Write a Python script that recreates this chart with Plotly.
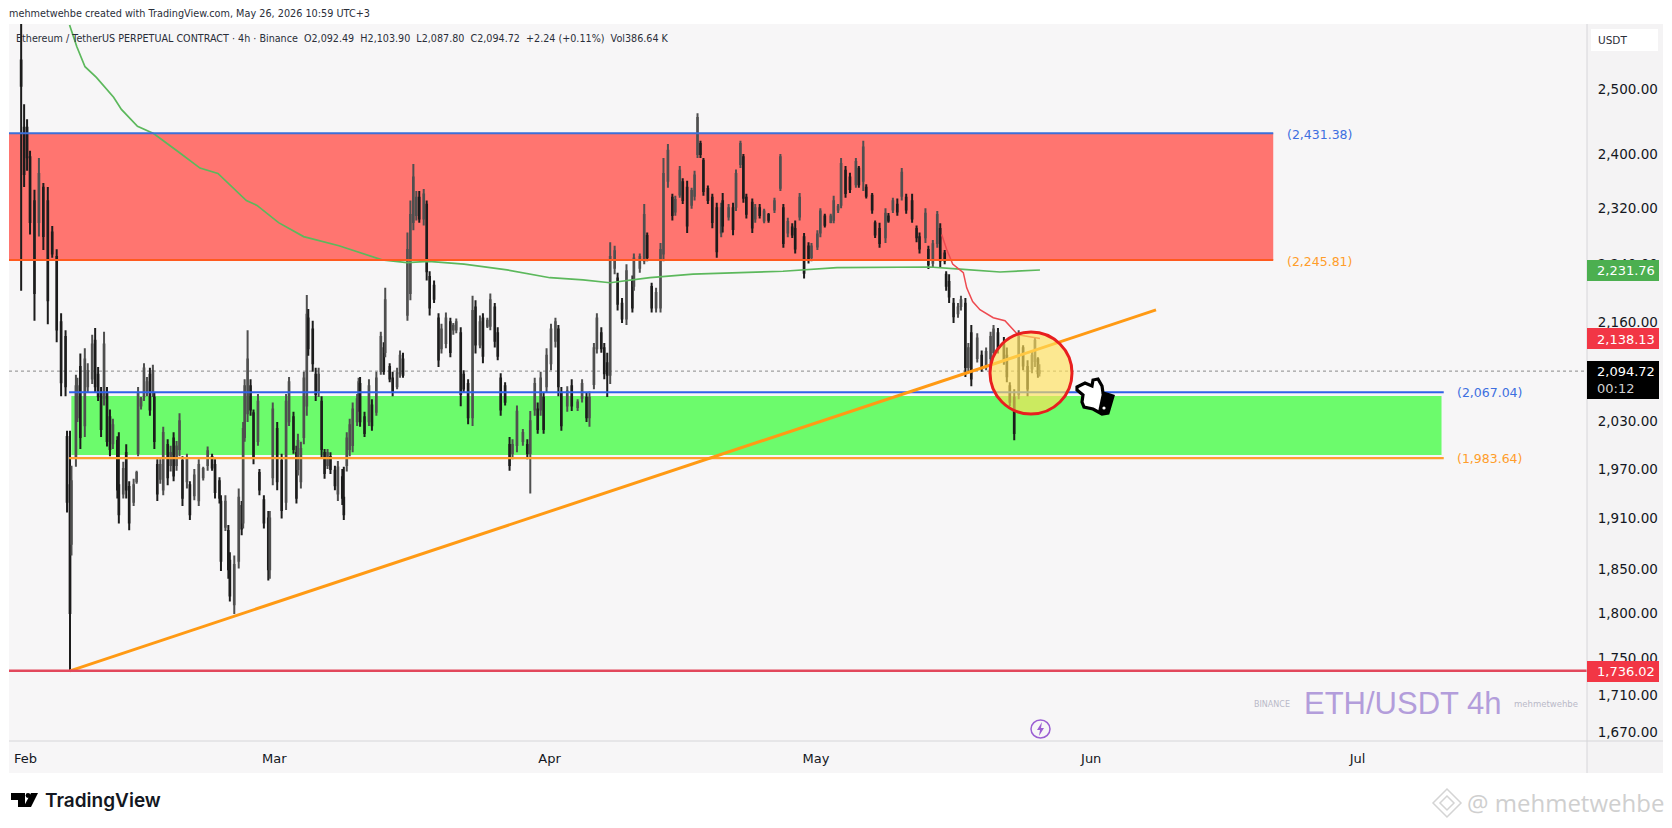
import math
import pandas as pd
import plotly.graph_objects as go

W, H = 1672, 828
# pane edges in the screenshot
LEFT, RIGHT, TOP, BOTTOM = 9, 1587, 24, 741
FONT = "DejaVu Sans"
INK = "#131722"

FEB_1 = pd.Timestamp("2026-02-01")

candle_bars = [-3,-1,1,3,6,9,12,15,18,21,24,27,28,30,31,34,35,37,40,42,45,47,49,51,53,55,57,59,62,63,66,68,70,73,75,76,78,80,82,84,86,87,89,91,93,96,98,100,102,104,106,109,111,114,117,120,123,126,128,131,132,135,137,138,141,144,146,147,148,150,152,154,157,158,161,164,165,
    167,170,173,176,178,181,183,184,186,188,190,191,194,196,198,200,202,204,206,209,211,214,215,217,219,221,224,225,226,229,232,234,237,240,242,243,246,248,251,253,255,258,260,262,264,266,269,271,273,276,279,281,284,287,289,291,294,296,299,302,304,307,309,312,314,317,319,321,324,327,329,332,336,339,341,344,346,348,350,
    352,355,358,360,362,366,369,373,376,379,381,384,386,389,391,393,395,398,400,403,406,410,411,415,418,420,423,426,429,431,434,437,439,442,444,447,450,452,454,456,458,461,464,467,470,471,475,478,480,483,485,487,491,493,496,499,502,506,510,512,515,518,520,523,526,529,531,535,537,540,544,546,549,551,554,557,561,563,566,568,572,574,577,581,583,586,589,592,595,599,602,604,608,610,613,616,618,621,622,624,627,630,632,635,637,639,643,646,649,652,654,657,661,663,665,668,671,674,677,680,682,684,685]

candle_high = [2640,2476,2453,2405,2347,2394,2357,2351,2294,2261,2172,2149,2018,2018,1974,2090,2086,2118,2125,2105,2143,2152,2100,2074,2147,2074,2045,2033,2011,2016,1979,2001,1955,1958,1968,2074,2061,2105,2087,2099,2103,2067,1982,1982,2023,2007,1999,2016,2005,2040,1986,1989,1955,1970,1982,1973,1998,1989,1982,1960,1938,1938,1902,1870,1866,1946,1931,2029,2084,2149,2084,2045,2065,1970,1938,1919,1919,
    2054,2029,1989,2065,2087,2042,1999,2014,2004,2094,2197,2178,2162,2099,2099,2062,1995,1995,1991,1974,1980,1970,1973,2016,2033,2054,2065,2086,2087,2042,2084,2058,2094,2147,2133,2207,2105,2094,2099,2122,2119,2285,2331,2385,2345,2345,2348,2331,2230,2217,2172,2158,2173,2166,2159,2165,2153,2096,2084,2196,2190,2169,2172,2166,2199,2186,2153,2092,2080,2010,2007,2050,2020,2007,2043,2086,2054,2094,2067,
    2125,2158,2166,2156,2074,2075,2084,2058,2084,2067,2068,2132,2172,2153,2132,2119,2271,2266,2228,2193,2240,2224,2255,2255,2326,2285,2214,2207,2270,2394,2415,2341,2338,2382,2364,2360,2350,2375,2462,2420,2394,2353,2341,2328,2328,2342,2326,2328,2377,2420,2400,2341,2334,2326,2326,2319,2313,2335,2400,2326,2306,2298,2302,2342,2284,2271,2270,2288,2320,2312,2312,2338,2326,2394,2382,2372,2394,2382,2420,2355,2342,2302,2299,2320,2313,2335,2334,2379,2341,2341,2295,2285,2320,2266,2274,2316,2298,2260,2230,2226,2193,2186,2196,2193,2132,2156,2145,2122,2126,2147,2156,2152,2140,2126,2080,2071,2149,2129,2109,2122,2140,2113,2103.90]

candle_low = [2203,2351,2375,2282,2162,2279,2260,2157,2249,2133,2062,2062,1917,1736.02,1866,1973,2029,1995,2010,2067,2078,2067,2056,2010,2050,1998,1986,1995,1934,1904,1934,1934,1896,1925,1952,1986,2045,2056,2062,2037,2061,1995,1931,1952,1938,1950,1967,1955,1968,1986,1925,1946,1908,1932,1925,1956,1968,1968,1934,1928,1848,1895,1839,1813,1799,1851,1890,1898,2004,2029,2037,1976,1999,1938,1898,1837,1839,
    1950,1944,1910,1920,2024,1989,1928,1962,1946,2001,2037,2115,2094,2056,2061,1985,1958,1970,1964,1944,1931,1926,1908,1967,1986,1991,2024,2042,2023,2010,2024,2018,2037,2090,2090,2113,2080,2062,2071,2086,2086,2162,2190,2288,2302,2299,2295,2217,2169,2186,2100,2118,2125,2113,2143,2145,2049,2067,2026,2024,2118,2125,2105,2152,2149,2126,2109,2037,2050,1968,1982,1991,1999,1982,1940,2037,2014,2037,2014,
    2067,2096,2126,2062,2018,2042,2043,2043,2054,2029,2023,2071,2118,2119,2084,2061,2078,2226,2176,2159,2156,2173,2203,2228,2240,2244,2173,2173,2173,2244,2350,2302,2309,2335,2326,2284,2319,2331,2394,2394,2338,2326,2291,2249,2278,2285,2302,2281,2316,2379,2328,2305,2284,2299,2305,2298,2299,2313,2345,2263,2278,2277,2255,2302,2220,2241,2244,2260,2278,2292,2298,2298,2313,2320,2335,2342,2350,2350,2345,2334,2312,2277,2263,2270,2299,2313,2309,2331,2312,2299,2271,2255,2270,2233,2235,2263,2235,2240,2203,2186,2159,2166,2176,2087,2092,2075,2106,2094,2096,2105,2113,2118,2103,2080,2049,2006,2058,2096,2062,2092,2100,2086,2087.80]

candle_open = [2545,2440,2440,2395,2330,2300,2350,2330,2285,2250,2160,2140,2010,1950,1880,1985,2035,2100,2025,2075,2085,2135,2090,2065,2060,2065,2035,2002,2005,1950,1940,1990,1948,1930,1955,1990,2050,2062,2070,2090,2068,2060,1975,1958,1945,2000,1975,2008,1975,1995,1980,1955,1950,1938,1932,1960,1975,1985,1975,1955,1930,1900,1895,1860,1810,1860,1925,1905,2010,2040,2075,2040,2005,1965,1932,1910,1850,
    1960,2020,1980,1930,2030,2035,1990,1970,1955,2010,2050,2165,2150,2090,2070,2055,1990,1975,1985,1968,1940,1960,1935,1975,1995,2000,2030,2050,2078,2035,2030,2050,2042,2095,2125,2120,2100,2085,2075,2092,2110,2170,2200,2300,2310,2335,2305,2325,2222,2210,2165,2125,2132,2160,2150,2150,2145,2090,2078,2035,2180,2130,2165,2155,2155,2180,2145,2085,2075,2000,1990,2000,2005,2000,1990,2045,2045,2045,2060,
    2075,2105,2135,2150,2065,2050,2075,2048,2060,2060,2035,2078,2125,2145,2125,2105,2090,2235,2220,2185,2165,2215,2210,2235,2245,2280,2208,2180,2180,2255,2360,2335,2315,2340,2358,2350,2325,2338,2400,2415,2390,2348,2335,2320,2285,2330,2308,2320,2322,2385,2395,2335,2328,2305,2320,2302,2310,2318,2350,2320,2285,2292,2290,2308,2278,2265,2250,2265,2285,2308,2300,2303,2318,2325,2375,2365,2355,2378,2360,2350,2338,2298,2290,2278,2308,2318,2325,2338,2335,2330,2290,2278,2278,2260,2242,2270,2290,2255,2225,2215,2185,2172,2182,2185,2100,2145,2112,2115,2102,2112,2120,2145,2130,2115,2075,2060,2065,2125,2100,2098,2108,2110,2092.49]

candle_close = [2505,2370,2395,2300,2200,2370,2280,2190,2255,2150,2080,2075,1930,1800,1955,2075,2075,2010,2110,2095,2130,2075,2062,2020,2130,2005,1995,2025,1945,1915,1970,1945,1905,1950,1965,2065,2058,2098,2080,2045,2095,2005,1940,1975,2015,1960,1990,1962,1998,2030,1935,1982,1915,1962,1975,1970,1992,1972,1942,1935,1860,1930,1850,1820,1855,1935,1898,2020,2075,2110,2045,1985,2055,1945,1905,1850,1910,
    2045,1955,1920,2055,2080,1995,1935,2005,1995,2085,2170,2125,2105,2065,2090,1995,1965,1990,1970,1950,1972,1935,1915,2008,2025,2045,2058,2080,2030,2015,2075,2025,2085,2140,2095,2190,2085,2068,2092,2115,2090,2260,2310,2365,2335,2305,2340,2230,2180,2192,2110,2150,2165,2120,2155,2160,2065,2072,2035,2175,2130,2160,2115,2162,2190,2135,2115,2045,2055,1975,2000,2042,2015,1990,2030,2078,2020,2085,2020,
    2115,2150,2160,2075,2025,2068,2050,2054,2078,2035,2060,2125,2165,2125,2092,2090,2250,2258,2185,2165,2230,2180,2248,2250,2310,2250,2180,2200,2260,2370,2405,2310,2332,2375,2332,2295,2345,2368,2455,2400,2345,2332,2300,2258,2320,2295,2320,2290,2370,2415,2335,2312,2292,2320,2310,2315,2303,2330,2395,2270,2300,2282,2262,2335,2228,2248,2265,2282,2315,2296,2308,2330,2322,2385,2342,2348,2388,2355,2410,2338,2318,2282,2270,2312,2302,2330,2315,2372,2318,2305,2278,2262,2312,2240,2268,2310,2245,2245,2210,2195,2168,2180,2190,2100,2125,2085,2138,2100,2120,2140,2150,2125,2110,2088,2055,2015,2140,2102,2072,2115,2135,2092,2094.72]

# slow moving average (green)
ma_days = [4.95,5.77,6.69,7.97,9.91,10.79,12.6,14.41,17.23,19.64,21.66,24.86,26.06,28.49,31.31,35.29,40.14,42.95,45.38,49.37,54.21,59.05,62.77,65.81,70.31,75.16,80.45,85.29,91.37,96.55,101.84,105.22,109.73,114.23]
ma_prices = [2602,2567,2535,2518,2487,2468,2442,2431,2403,2379,2371,2331,2324,2299,2279,2266,2246,2242,2244,2240,2232,2221,2218,2214,2221,2226,2228,2230,2235,2236,2236,2233,2229,2231.76]

# fast moving average (red)
fast_days = [103.16,103.72,104.4,105.6,105.98,106.65,107.47,108.97,110.29,111.05,111.75,114.23]
fast_prices = [2282,2261,2240,2228,2207,2188,2177,2166,2162,2152,2143,2138.13]

# trend line
trend_days = [5.0,127.3]
trend_prices = [1736.02,2176.6]

LAST_PRICE = 2094.72
LOW_LEVEL = 1736.02
RED_ZONE = [2245.81, 2431.38]
GREEN_ZONE = [1987.4, 2062.3]
GREEN_LINES = [1983.64, 2067.04]

price_ticks = [2500,2400,2320,2240,2160,2030,1970,1910,1850,1800,1750,1710,1670]
price_labels = ["2,500.00","2,400.00","2,320.00","2,240.00","2,160.00","2,030.00","1,970.00","1,910.00","1,850.00","1,800.00","1,750.00","1,710.00","1,670.00"]
month_ticks = ["2026-02-01","2026-03-01","2026-04-01","2026-05-01","2026-06-01","2026-07-01"]
month_labels = ["Feb","Mar","Apr","May","Jun","Jul"]


def day(d):
    return FEB_1 + pd.Timedelta(days=d)


# screenshot pixels -> paper fractions
def fx(x):
    return (x - LEFT) / (RIGHT - LEFT)


def fy(y):
    return 1 - (y - TOP) / (BOTTOM - TOP)


def rect(x0, y0, x1, y1, fill, line=None, layer="below", lw=1):
    return dict(type="rect", xref="paper", yref="paper", x0=fx(x0), x1=fx(x1), y0=fy(y0), y1=fy(y1),
                fillcolor=fill, line=dict(color=line or fill, width=lw if line else 0), layer=layer)


def poly(points, fill, line=None, lw=0, layer="above"):
    d = "M " + " L ".join("{:.5f},{:.5f}".format(fx(x), fy(y)) for x, y in points) + " Z"
    return dict(type="path", xref="paper", yref="paper", path=d, fillcolor=fill,
                line=dict(color=line or fill, width=lw), layer=layer)


def dot(cx, cy, r, fill):
    return dict(type="circle", xref="paper", yref="paper", x0=fx(cx - r), x1=fx(cx + r), y0=fy(cy + r), y1=fy(cy - r),
                fillcolor=fill, line=dict(width=0), layer="above")


def label(x, y, text, size=12, color=INK, anchor="left", family=FONT, weight=400):
    return dict(xref="paper", yref="paper", x=fx(x), y=fy(y), text=text, showarrow=False, xanchor=anchor,
                yanchor="middle", align=anchor, font=dict(family=family, size=size, color=color, weight=weight),
                borderpad=0, borderwidth=0)


fig = go.Figure()

fig.add_trace(go.Candlestick(
    x=[FEB_1 + pd.Timedelta(hours=4 * b) for b in candle_bars],
    open=candle_open, high=candle_high, low=candle_low, close=candle_close,
    increasing=dict(line=dict(color="#4f4f4f", width=2), fillcolor="#6b6b6b"),
    decreasing=dict(line=dict(color="#1c1c1c", width=2), fillcolor="#161616"),
    whiskerwidth=0, showlegend=False))


def line_trace(days, prices, color, width):
    return go.Scatter(x=[day(d) for d in days], y=prices, mode="lines", showlegend=False,
                      line=dict(color=color, width=width))


ZONE_END = 140.5
GREEN_START, GREEN_END = 4.9, 159.7
PANE_START, PANE_END = (LEFT - 25.6) / 8.88, (RIGHT - 25.6) / 8.88

fig.add_trace(line_trace(ma_days, ma_prices, "#5cb85c", 1.7))
fig.add_trace(line_trace(fast_days, fast_prices, "#ee4a50", 1.5))
fig.add_trace(line_trace([PANE_START, ZONE_END], [RED_ZONE[1]] * 2, "#3b6fd8", 2))
fig.add_trace(line_trace([PANE_START, ZONE_END], [RED_ZONE[0]] * 2, "#ff5a1e", 2))
fig.add_trace(line_trace([GREEN_START, GREEN_END], [GREEN_LINES[1]] * 2, "#2f62e8", 2))
fig.add_trace(line_trace([GREEN_START, GREEN_END], [GREEN_LINES[0]] * 2, "#ff9f2e", 2.2))
fig.add_trace(line_trace(trend_days, trend_prices, "#ff9a14", 3))
fig.add_trace(line_trace([PANE_START, PANE_END], [LOW_LEVEL] * 2, "#e2485c", 2.5))

shapes = [
    # panel behind everything
    rect(LEFT, TOP, 1663, 773, "#f7f6f7"),
    rect(RIGHT, TOP, 1663, 773, "#f4f3f4"),
    dict(type="rect", xref="x", yref="y", x0=day(PANE_START), x1=day(ZONE_END), y0=RED_ZONE[0], y1=RED_ZONE[1],
         fillcolor="#ff7570", line=dict(width=0), layer="below"),
    dict(type="rect", xref="x", yref="y", x0=day(GREEN_START + 0.25), x1=day(GREEN_END - 0.25), y0=GREEN_ZONE[0], y1=GREEN_ZONE[1],
         fillcolor="#6cfb6c", line=dict(width=0), layer="below"),
    dict(type="line", xref="paper", yref="y", x0=0, x1=1, y0=LAST_PRICE, y1=LAST_PRICE,
         line=dict(color="#8a8a8a", width=1, dash="dot"), layer="below"),
    dict(type="line", xref="paper", yref="paper", x0=fx(RIGHT), x1=fx(RIGHT), y0=fy(TOP), y1=fy(773),
         line=dict(color="#d6d6d9", width=1), layer="above"),
    dict(type="line", xref="paper", yref="paper", x0=fx(LEFT), x1=fx(1663), y0=fy(BOTTOM), y1=fy(BOTTOM),
         line=dict(color="#d6d6d9", width=1), layer="above"),
    # highlight circle
    dict(type="circle", xref="paper", yref="paper", x0=fx(990), x1=fx(1072), y0=fy(332), y1=fy(414),
         fillcolor="rgba(255,224,90,0.65)", line=dict(color="#e81f1f", width=3), layer="above"),
    # price tags
    rect(1587, 260, 1659, 281, "#4caf50", layer="above"),
    rect(1587, 328, 1659, 349, "#f23645", layer="above"),
    rect(1587, 361, 1659, 399, "#000000", layer="above"),
    rect(1587, 661, 1659, 682, "#f23645", layer="above"),
    rect(1591, 29, 1658, 51, "#ffffff", layer="above"),
    # pointing hand
    poly([(1077, 387), (1085, 383), (1092, 386), (1093, 380), (1098, 379), (1102, 386), (1103, 393), (1110, 395), (1113, 396),
          (1108, 413), (1102, 414), (1093, 409), (1084, 407), (1082, 402), (1083, 395), (1077, 390)],
         "#ffffff", "#000000", 3.2),
    poly([(1102, 393), (1113, 396), (1108, 414), (1098, 412)], "#000000"),
    dot(1104, 408, 1.6, "#ffffff"),
    # lightning icon
    dict(type="circle", xref="paper", yref="paper", x0=fx(1031), x1=fx(1050), y0=fy(720), y1=fy(738),
         fillcolor="rgba(0,0,0,0)", line=dict(color="#9b5fd3", width=1.5), layer="above"),
    poly([(1042, 722), (1037, 730), (1040, 730), (1039, 736), (1044, 728), (1041, 728)], "#9b5fd3"),
    # TradingView logo
    poly([(11, 793), (25, 793), (25, 807), (18, 807), (18, 800), (11, 800)], "#000000"),
    dot(28, 795.5, 2.4, "#000000"),
    poly([(31, 793), (38, 793), (31, 807), (23.5, 807)], "#000000"),
    # diamond of the bottom watermark
    poly([(1447, 789), (1461, 803), (1447, 817), (1433, 803)], "#ffffff", "#d4d4d4", 1.5),
    poly([(1447, 796), (1454, 803), (1447, 810), (1440, 803)], "#ffffff", "#d4d4d4", 1.5),
]

annotations = [
    label(9, 13, "mehmetwehbe created with TradingView.com, May 26, 2026 10:59 UTC+3", 9.7, "#2a2e39"),
    label(16, 38, "Ethereum / TetherUS PERPETUAL CONTRACT · 4h · Binance&nbsp;&nbsp;O2,092.49&nbsp;&nbsp;H2,103.90&nbsp;&nbsp;L2,087.80&nbsp;&nbsp;C2,094.72&nbsp;&nbsp;+2.24 (+0.11%)&nbsp;&nbsp;Vol386.64 K", 9.6, "#2a2e39"),
    label(1287, 134, "(2,431.38)", 12.5, "#3d6fe0"),
    label(1287, 261, "(2,245.81)", 12.5, "#ff9d2a"),
    label(1457, 393, "(2,067.04)", 12.5, "#3d6fe0"),
    label(1457, 458, "(1,983.64)", 12.5, "#ff9d2a"),
    label(1598, 40, "USDT", 10.5, "#2a2e39"),
    label(1597, 270, "2,231.76", 13, "#ffffff"),
    label(1597, 339, "2,138.13", 13, "#ffffff"),
    label(1597, 371, "2,094.72", 13, "#ffffff"),
    label(1597, 388, "00:12", 13, "#d0d0d0"),
    label(1597, 671, "1,736.02", 13, "#ffffff"),
    label(1254, 704, "BINANCE", 8, "#b9b9c8"),
    label(1304, 703, "ETH/USDT 4h", 31, "#b39ddb", family="Liberation Sans"),
    label(1514, 704, "mehmetwehbe", 8.5, "#b9b9c8"),
    label(45, 800, "TradingView", 19, "#131722", family="Inter", weight=600),
    label(1467, 803, "@ mehmetwehbe", 24, "#cfcfcf", family="Open Sans"),
]

fig.update_layout(
    width=W, height=H,
    margin=dict(l=LEFT, r=W - RIGHT, t=TOP, b=H - BOTTOM),
    paper_bgcolor="#ffffff", plot_bgcolor="rgba(0,0,0,0)",
    hovermode=False, showlegend=False,
    shapes=shapes, annotations=annotations,
    xaxis=dict(
        type="date", range=[day(PANE_START), day(PANE_END)], rangeslider=dict(visible=False),
        tickmode="array", tickvals=month_ticks, ticktext=month_labels,
        showgrid=False, zeroline=False, showline=False, ticks="outside", ticklen=5, tickcolor="rgba(0,0,0,0)",
        tickfont=dict(family=FONT, size=13, color=INK)),
    yaxis=dict(
        type="log", side="right", range=[math.log10(1661.3), math.log10(2603.8)],
        tickmode="array", tickvals=price_ticks, ticktext=price_labels,
        showgrid=False, zeroline=False, showline=False, ticks="outside", ticklen=7, tickcolor="rgba(0,0,0,0)",
        tickfont=dict(family=FONT, size=13.5, color=INK)),
)

fig.write_html("out.html", config=dict(displayModeBar=False),
               post_script="document.body.style.margin='0';document.body.style.overflow='hidden';")
